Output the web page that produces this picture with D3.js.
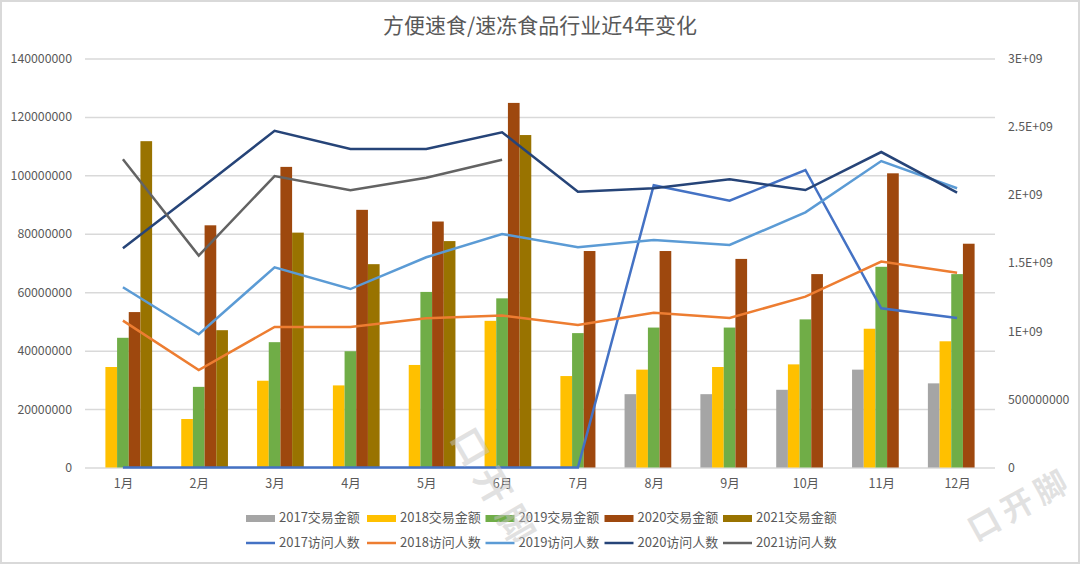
<!DOCTYPE html>
<html>
<head>
<meta charset="utf-8">
<script src="https://cdn.jsdelivr.net/npm/d3@7"></script>
<style>
html, body { margin: 0; padding: 0; background: #fff; }
svg { display: block; }
text { font-family: "Noto Sans CJK SC", "Noto Sans", sans-serif; fill: #595959; }
text.watermark { fill: #c4c4c4; fill-opacity: 0.5; font-weight: 700; }
</style>
</head>
<body>
<div id="chart-area"></div>
<script>
var width = 1080,
	height = 564;

var months = ["1月", "2月", "3月", "4月", "5月", "6月", "7月", "8月", "9月", "10月", "11月", "12月"];

// bars, left axis
var amount2017 = [null, null, null, null, null, null, null, 25100000, 25100000, 26600000, 33500000, 28800000];
var amount2018 = [34400000, 16600000, 29700000, 28100000, 35100000, 50200000, 31300000, 33500000, 34400000, 35300000, 47500000, 43200000];
var amount2019 = [44400000, 27600000, 42900000, 39800000, 60100000, 57900000, 46000000, 47900000, 47900000, 50700000, 68700000, 66200000];
var amount2020 = [53200000, 82900000, 102900000, 88200000, 84200000, 124800000, 74100000, 74100000, 71400000, 66200000, 100700000, 76600000];
var amount2021 = [111700000, 47000000, 80400000, 69600000, 77500000, 113800000, null, null, null, null, null, null];

// lines, right axis
var visitors2017 = [0, 0, 0, 0, 0, 0, 0, 2070000000, 1957000000, 2182000000, 1168000000, 1097000000];
var visitors2018 = [1077000000, 715000000, 1031000000, 1031000000, 1094000000, 1114000000, 1045000000, 1135000000, 1097000000, 1253000000, 1510000000, 1429000000];
var visitors2019 = [1322000000, 977000000, 1468000000, 1309000000, 1542000000, 1713000000, 1615000000, 1669000000, 1632000000, 1872000000, 2248000000, 2048000000];
var visitors2020 = [1608000000, 2035000000, 2470000000, 2336000000, 2336000000, 2459000000, 2023000000, 2048000000, 2114000000, 2035000000, 2314000000, 2016000000];
var visitors2021 = [2261000000, 1554000000, 2138000000, 2033000000, 2126000000, 2258000000, null, null, null, null, null, null];

var leftTicks = [0, 20000000, 40000000, 60000000, 80000000, 100000000, 120000000, 140000000];
var rightTicks = [0, 500000000, 1000000000, 1500000000, 2000000000, 2500000000, 3000000000];
var rightLabels = ["0", "500000000", "1E+09", "1.5E+09", "2E+09", "2.5E+09", "3E+09"];

var barSeries = [
	{ name: "2017交易金额", values: amount2017, color: "#a5a5a5" },
	{ name: "2018交易金额", values: amount2018, color: "#ffc000" },
	{ name: "2019交易金额", values: amount2019, color: "#70ad47" },
	{ name: "2020交易金额", values: amount2020, color: "#9e480e" },
	{ name: "2021交易金额", values: amount2021, color: "#997300" }
];
var lineSeries = [
	{ name: "2017访问人数", values: visitors2017, color: "#4472c4" },
	{ name: "2018访问人数", values: visitors2018, color: "#ed7d31" },
	{ name: "2019访问人数", values: visitors2019, color: "#5b9bd5" },
	{ name: "2020访问人数", values: visitors2020, color: "#264478" },
	{ name: "2021访问人数", values: visitors2021, color: "#636363" }
];

var plotLeft = 85, plotRight = 995, plotTop = 58.5, plotBottom = 467.5;

var svg = d3.select("#chart-area")
	.append("svg")
	.attr("width", width)
	.attr("height", height);

svg.append("rect")
	.attr("x", 1).attr("y", 1)
	.attr("width", width - 2).attr("height", height - 2)
	.attr("fill", "#fff")
	.attr("stroke", "#d9d9d9")
	.attr("stroke-width", 2);

svg.append("text")
	.attr("x", 540)
	.attr("y", 33)
	.attr("text-anchor", "middle")
	.attr("font-size", 21)
	.text("方便速食/速冻食品行业近4年变化");

// scales
var x = d3.scaleBand().domain(months).range([plotLeft, plotRight]).paddingInner(0.23).paddingOuter(0.115);
var xBar = d3.scaleBand().domain(barSeries.map(function(d) { return d.name; })).range([0, x.bandwidth()]);
var xPoint = d3.scalePoint().domain(months).range([plotLeft + (plotRight - plotLeft) / 24, plotRight - (plotRight - plotLeft) / 24]);
var yLeft = d3.scaleLinear().domain([0, 140000000]).range([plotBottom, plotTop]);
var yRight = d3.scaleLinear().domain([0, 3000000000]).range([plotBottom, plotTop]);

// axes
var leftAxis = svg.append("g")
	.attr("class", "axis y-left")
	.attr("transform", "translate(" + plotLeft + ",0)")
	.call(d3.axisLeft(yLeft).tickValues(leftTicks).tickFormat(d3.format("d")).tickSize(-(plotRight - plotLeft)).tickPadding(13));
leftAxis.select(".domain").remove();
leftAxis.selectAll("line").attr("stroke", "#d9d9d9").attr("stroke-width", 1.5);
leftAxis.selectAll("text").attr("font-size", 12.3).attr("font-family", null);

var rightAxis = svg.append("g")
	.attr("class", "axis y-right")
	.attr("transform", "translate(" + plotRight + ",0)")
	.call(d3.axisRight(yRight).tickValues(rightTicks).tickFormat(function(d, i) { return rightLabels[i]; }).tickSize(0).tickPadding(13));
rightAxis.select(".domain").remove();
rightAxis.selectAll("text").attr("font-size", 12.3).attr("font-family", null);

var bottomAxis = svg.append("g")
	.attr("class", "axis x-axis")
	.attr("transform", "translate(0," + plotBottom + ")")
	.call(d3.axisBottom(xPoint).tickSize(0).tickPadding(12));
bottomAxis.select(".domain").remove();
bottomAxis.selectAll("text").attr("font-size", 12.5).attr("font-family", null);

// bars
barSeries.forEach(function(s) {
	var rows = months.map(function(m, i) { return { month: m, value: s.values[i] }; })
		.filter(function(d) { return d.value !== null; });

	svg.append("g")
		.selectAll("rect")
		.data(rows)
		.enter()
		.append("rect")
		.attr("x", function(d) { return x(d.month) + xBar(s.name); })
		.attr("y", function(d) { return yLeft(d.value); })
		.attr("width", xBar.bandwidth())
		.attr("height", function(d) { return plotBottom - yLeft(d.value); })
		.attr("fill", s.color);
});

// lines
var line = d3.line()
	.defined(function(d) { return d !== null; })
	.x(function(d, i) { return xPoint(months[i]); })
	.y(function(d) { return yRight(d); });

lineSeries.forEach(function(s) {
	svg.append("path")
		.datum(s.values)
		.attr("fill", "none")
		.attr("stroke", s.color)
		.attr("stroke-width", 2.5)
		.attr("d", line);
});

// legend
var legendX = [246, 367, 485.5, 604.5, 723];
var legend = svg.append("g").attr("class", "legend");
barSeries.forEach(function(s, i) {
	legend.append("rect")
		.attr("x", legendX[i]).attr("y", 515)
		.attr("width", 29).attr("height", 7)
		.attr("fill", s.color);
	legend.append("text")
		.attr("x", legendX[i] + 33).attr("y", 521.5)
		.attr("font-size", 13)
		.text(s.name);
});
lineSeries.forEach(function(s, i) {
	legend.append("line")
		.attr("x1", legendX[i]).attr("x2", legendX[i] + 29)
		.attr("y1", 543).attr("y2", 543)
		.attr("stroke", s.color)
		.attr("stroke-width", 2.5);
	legend.append("text")
		.attr("x", legendX[i] + 33).attr("y", 547)
		.attr("font-size", 13)
		.text(s.name);
});

// watermarks
svg.append("text")
	.attr("class", "watermark")
	.attr("transform", "translate(473,445) rotate(60)")
	.attr("dominant-baseline", "central")
	.attr("x", -18)
	.attr("font-size", 36)
	.attr("letter-spacing", 9)
	.text("口开脚");

svg.append("text")
	.attr("class", "watermark")
	.attr("transform", "translate(983,522) rotate(-29)")
	.attr("dominant-baseline", "central")
	.attr("x", -16)
	.attr("font-size", 32)
	.attr("letter-spacing", 6)
	.text("口开脚");
</script>
</body>
</html>
